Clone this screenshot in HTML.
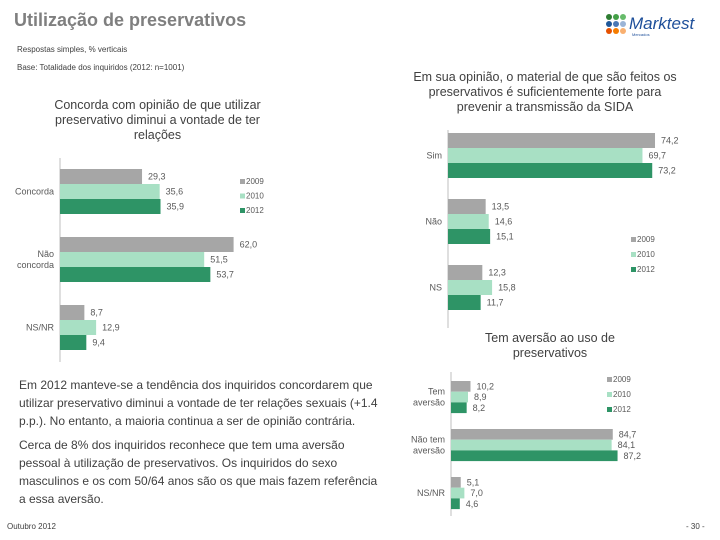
<!DOCTYPE html>
<html><head><meta charset="utf-8">
<style>
body{margin:0;width:720px;height:540px;background:#fff;font-family:"Liberation Sans",sans-serif;position:relative;overflow:hidden;color:#404040}
.a{position:absolute;white-space:nowrap}
svg{position:absolute;left:0;top:0}
</style></head><body>
<div class="a" style="left:14px;top:10px;font-size:18px;font-weight:bold;color:#7f7f7f">Utilização de preservativos</div>
<div class="a" style="left:17px;top:45px;font-size:8px;color:#404040">Respostas simples, % verticais</div>
<div class="a" style="left:17px;top:63px;font-size:8px;color:#404040">Base: Totalidade dos inquiridos (2012: n=1001)</div>
<div class="a" style="left:604px;top:14px">
<svg width="120" height="24" style="position:static">
<g><circle cx="5" cy="3" r="3" fill="#2e7d32"/><circle cx="12" cy="3" r="3" fill="#43a047"/><circle cx="19" cy="3" r="3" fill="#66bb6a"/>
<circle cx="5" cy="10" r="3" fill="#1e5799"/><circle cx="12" cy="10" r="3" fill="#4a78b5"/><circle cx="19" cy="10" r="3" fill="#9bb4d6"/>
<circle cx="5" cy="17" r="3" fill="#e65100"/><circle cx="12" cy="17" r="3" fill="#f57c00"/><circle cx="19" cy="17" r="3" fill="#f9b070"/></g>
<text x="25" y="15" font-size="17" font-style="italic" fill="#1e4f9a" font-family="Liberation Sans">Marktest</text>
<text x="28" y="22" font-size="4" fill="#1e4f9a">Mercados</text>
</svg></div>

<div class="a" style="left:30px;top:98px;width:255px;text-align:center;font-size:12.5px;line-height:15px;color:#404040">Concorda com opinião de que utilizar<br>preservativo diminui a vontade de ter<br>relações</div>
<div class="a" style="left:380px;top:70px;width:330px;text-align:center;font-size:12.5px;line-height:15px;color:#404040">Em sua opinião, o material de que são feitos os<br>preservativos é suficientemente forte para<br>prevenir a transmissão da SIDA</div>
<div class="a" style="left:460px;top:331px;width:180px;text-align:center;font-size:12.5px;line-height:15px;color:#404040">Tem aversão ao uso de<br>preservativos</div>

<div class="a" style="left:19px;top:376px;font-size:12px;line-height:18px;color:#404040">Em 2012 manteve-se a tendência dos inquiridos concordarem que<br>utilizar preservativo diminui a vontade de ter relações sexuais (+1.4<br>p.p.). No entanto, a maioria continua a ser de opinião contrária.<div style="height:6px"></div>Cerca de 8% dos inquiridos reconhece que tem uma aversão<br>pessoal à utilização de preservativos. Os inquiridos do sexo<br>masculinos e os com 50/64 anos  são os que mais fazem referência<br>a essa aversão.</div>
<div class="a" style="left:7px;top:522px;font-size:8px">Outubro 2012</div>
<div class="a" style="left:686px;top:522px;font-size:8px">- 30 -</div>

<svg id="s" width="720" height="540"></svg>
<script>
const years=["2009","2010","2012"];
const colors=["#a6a6a6","#a8e0c4","#2e9466"];
const c1Cats=[["Concorda"],["Não","concorda"],["NS/NR"]];
const c1Vals=[[29.3,35.6,35.9],[62.0,51.5,53.7],[8.7,12.9,9.4]];
const c1Labels=[["29,3","35,6","35,9"],["62,0","51,5","53,7"],["8,7","12,9","9,4"]];
const c2Cats=[["Sim"],["Não"],["NS"]];
const c2Vals=[[74.2,69.7,73.2],[13.5,14.6,15.1],[12.3,15.8,11.7]];
const c2Labels=[["74,2","69,7","73,2"],["13,5","14,6","15,1"],["12,3","15,8","11,7"]];
const c3Cats=[["Tem","aversão"],["Não tem","aversão"],["NS/NR"]];
const c3Vals=[[10.2,8.9,8.2],[84.7,84.1,87.2],[5.1,7.0,4.6]];
const c3Labels=[["10,2","8,9","8,2"],["84,7","84,1","87,2"],["5,1","7,0","4,6"]];

const svg=document.getElementById('s');const NS="http://www.w3.org/2000/svg";
function el(t,a){const e=document.createElementNS(NS,t);for(const k in a)e.setAttribute(k,a[k]);svg.appendChild(e);return e;}
function chart(cfg,cats,vals,labels,name){
  const x=v=>cfg.x0+v*cfg.k;
  const ax=el('line',{x1:cfg.x0,x2:cfg.x0,y1:cfg.yTop,y2:cfg.yTop+cfg.gap*3,stroke:'#bfbfbf','stroke-width':1});
  
  
  cats.forEach((c,i)=>{
    const gy=cfg.y0+i*cfg.gap;
    vals[i].forEach((v,j)=>{
      const y=gy+j*cfg.bh;
      const r=el('rect',{x:cfg.x0,y:y,width:x(v)-cfg.x0,height:cfg.bh,fill:colors[j]});
      
      
      const t=el('text',{x:x(v)+6,y:y+cfg.bh/2+3,'font-size':9,fill:'#595959'});
      t.textContent=labels[i][j];
      
      
    });
    const cy=gy+cfg.bh*1.5;
    c.forEach((ln,li)=>{
      const t=el('text',{x:cfg.x0-6,y:cy+3+(li-(c.length-1)/2)*11,'font-size':9,fill:'#595959','text-anchor':'end'});
      t.textContent=ln;
      
      
    });
  });
  years.forEach((yr,j)=>{
    const ly=cfg.ly+j*cfg.lsp;
    const r=el('rect',{x:cfg.lx,y:ly-5,width:5,height:5,fill:colors[j]});
    
    
    const t=el('text',{x:cfg.lx+6,y:ly,'font-size':8,fill:'#595959'});
    t.textContent=yr;
    
    
  });
}
chart({x0:60,k:2.8,y0:169,bh:15,gap:68,yTop:158,lx:240,ly:184,lsp:14.5},c1Cats,c1Vals,c1Labels,'chart1');
chart({x0:448,k:2.79,y0:133,bh:15,gap:66,yTop:130,lx:631,ly:242,lsp:15},c2Cats,c2Vals,c2Labels,'chart2');
chart({x0:451,k:1.91,y0:381,bh:10.7,gap:48,yTop:372,lx:607,ly:382,lsp:15},c3Cats,c3Vals,c3Labels,'chart3');
</script>
</body></html>
